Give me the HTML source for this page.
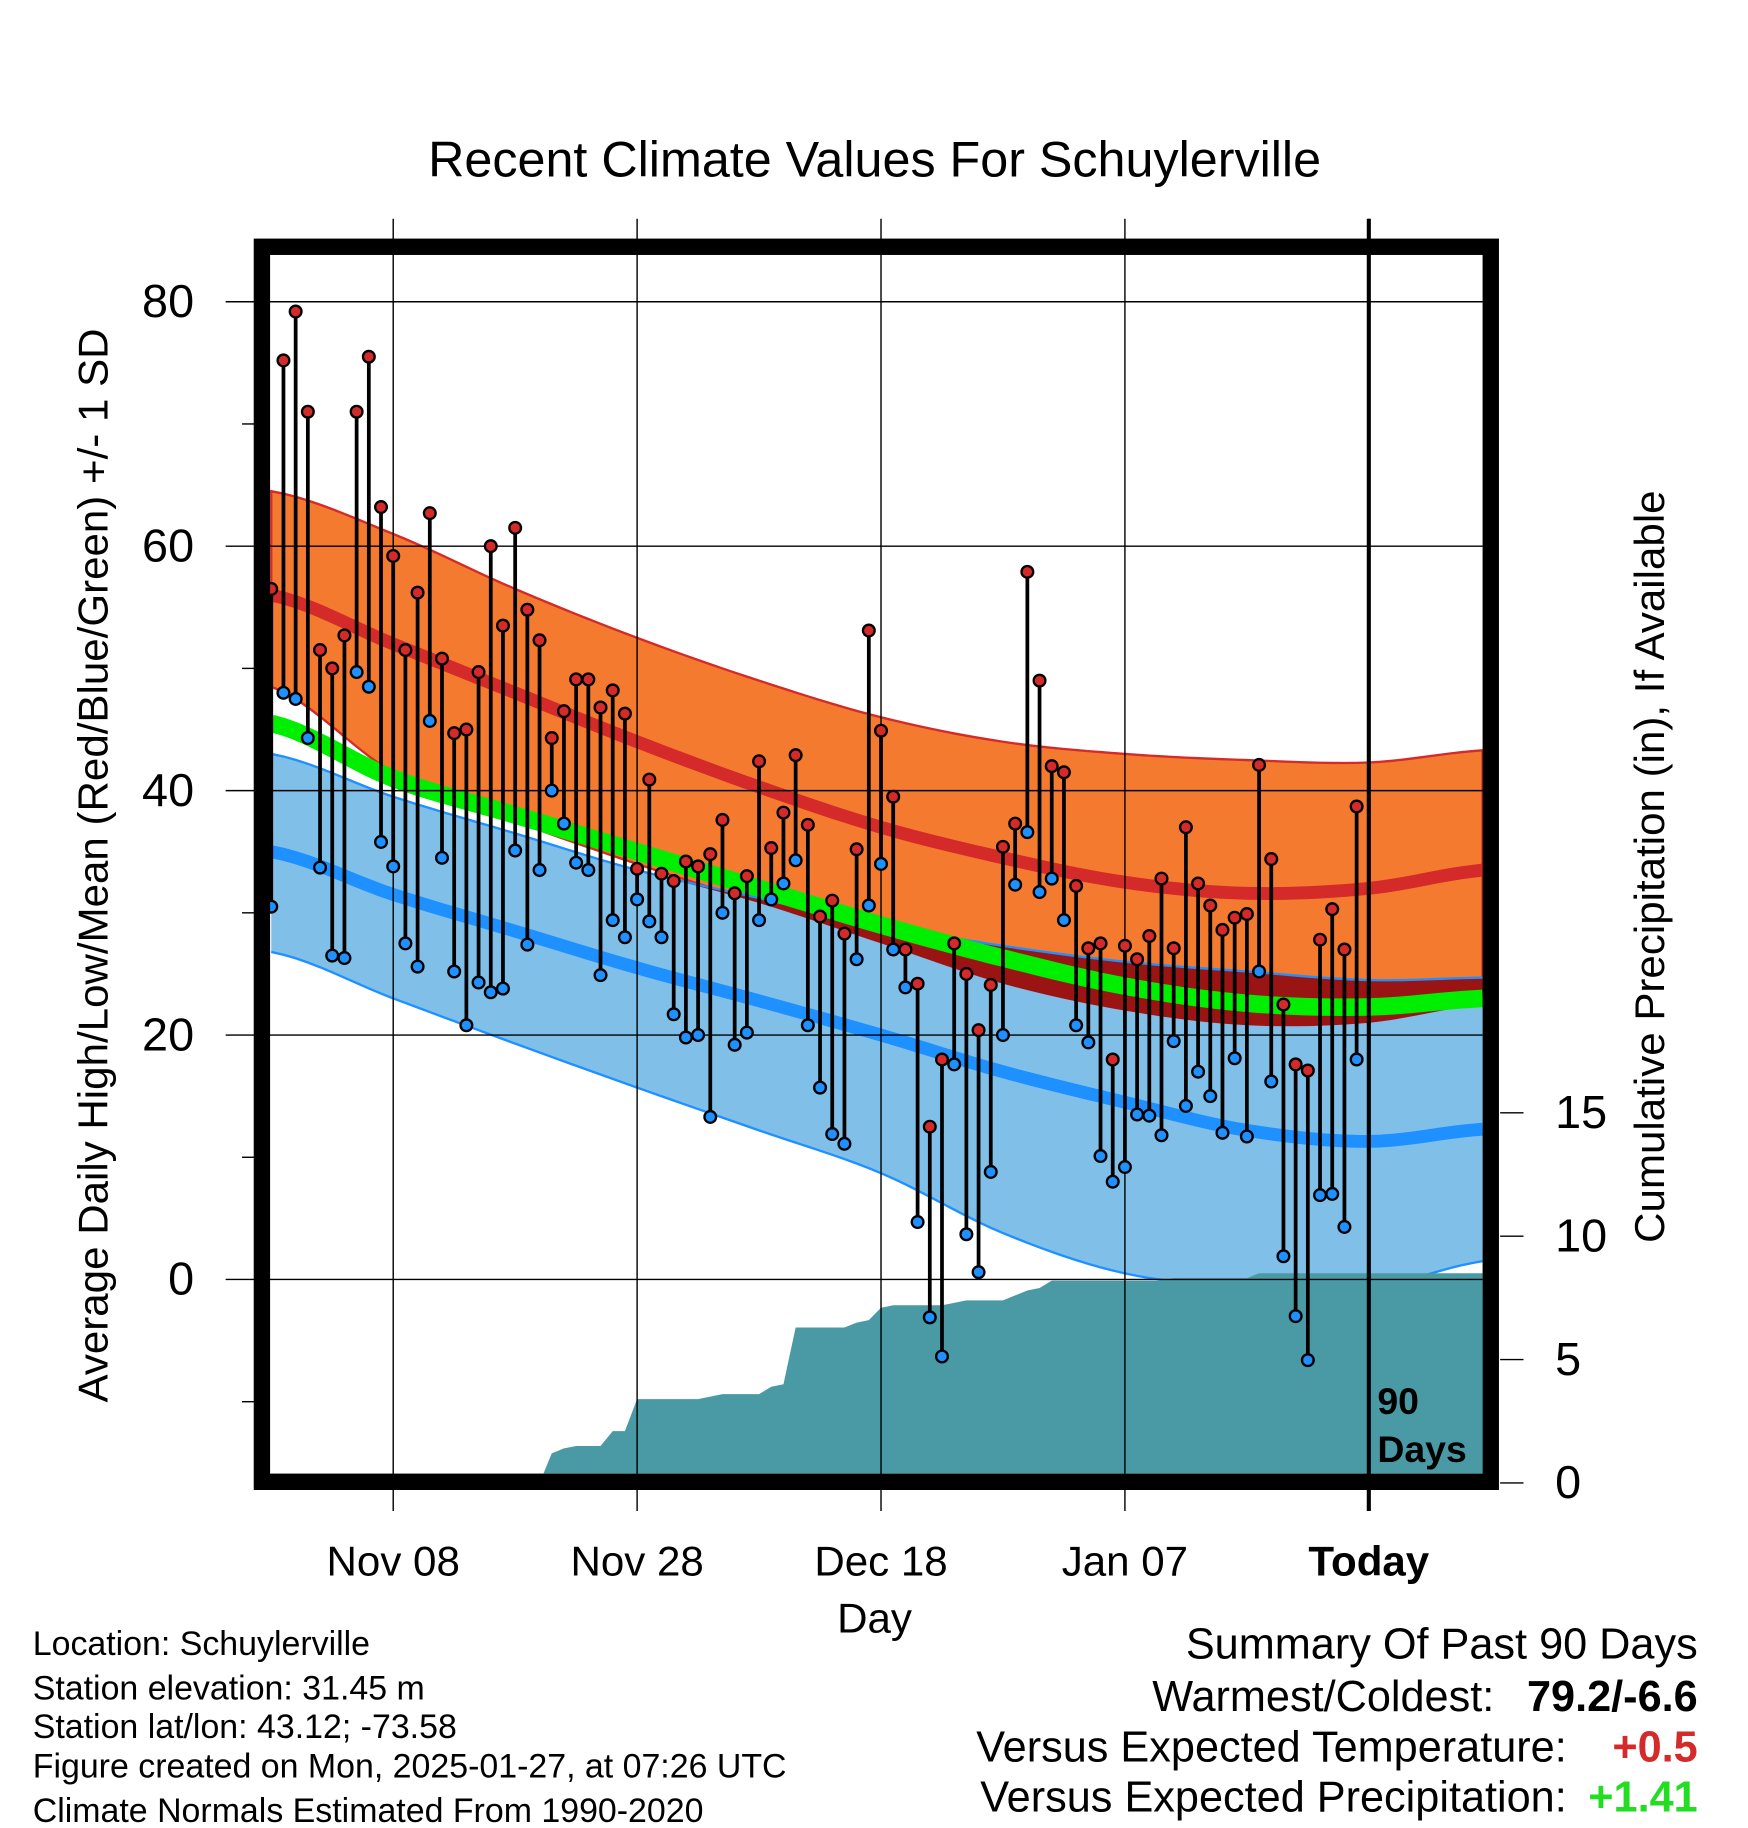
<!DOCTYPE html>
<html><head><meta charset="utf-8"><style>
html,body{margin:0;padding:0;background:#fff}
svg{display:block;font-family:"Liberation Sans",Arial,sans-serif}
</style></head><body>
<svg id="chart" width="1748" height="1828" viewBox="0 0 1495 1563" preserveAspectRatio="none" xmlns="http://www.w3.org/2000/svg">
<g id="bands"></g>
<g id="precip"></g>
<g id="grid"></g>
<g id="marks"></g>
<g id="frame"></g>
<g id="labels"></g>
<text x="748" y="151" text-anchor="middle" font-size="43">Recent Climate Values For Schuylerville</text>
<text transform="translate(92,740) rotate(-90)" text-anchor="middle" font-size="36">Average Daily High/Low/Mean (Red/Blue/Green) +/- 1 SD</text>
<text transform="translate(1423,741) rotate(-90)" text-anchor="middle" font-size="36">Cumulative Precipitation (in), If Available</text>
<text x="748" y="1396" text-anchor="middle" font-size="36">Day</text>
<g font-size="29">
<text x="28" y="1415">Location: Schuylerville</text>
<text x="28" y="1453">Station elevation: 31.45 m</text>
<text x="28" y="1486">Station lat/lon: 43.12; -73.58</text>
<text x="28" y="1520">Figure created on Mon, 2025-01-27, at 07:26 UTC</text>
<text x="28" y="1558">Climate Normals Estimated From 1990-2020</text>
</g>
<g font-size="37">
<text x="1452" y="1418" text-anchor="end">Summary Of Past 90 Days</text>
<text x="1278" y="1463" text-anchor="end">Warmest/Coldest:</text>
<text x="1452" y="1463" text-anchor="end" font-weight="bold">79.2/-6.6</text>
<text x="1340" y="1506" text-anchor="end">Versus Expected Temperature:</text>
<text x="1452" y="1506" text-anchor="end" font-weight="bold" fill="#d42a2a">+0.5</text>
<text x="1340" y="1549" text-anchor="end">Versus Expected Precipitation:</text>
<text x="1452" y="1549" text-anchor="end" font-weight="bold" fill="#22dd22">+1.41</text>
</g>
</svg>
<script>
const normDays=[0,10,20,30,40,50,60,70,80,90,99.5];
const hiUp=[64.5,61,56.5,52.5,49,46,44,43,42.5,42.3,43.3];
const hiMean=[56,52,48,44,40.3,37,34.5,32.5,31.6,32,33.5];
const hiDn=[48.5,41.5,37.5,34,30.8,27.5,24.2,22,20.8,21,22.5];
const avgMean=[45.5,41,38,35,32,29,26.3,24,22.6,22.3,23];
const loUp=[43,39.5,36.5,33.5,31.2,29,27.3,26,25.2,24.5,24.7];
const loMean=[35,31.5,28.5,25.5,22.8,20,17,14.5,12.2,11.3,12.3];
const loDn=[26.8,23,19.3,15.7,12.2,8.7,3.8,0.5,-0.6,-0.7,1.5];
const highs=[56.5,75.2,79.2,71,51.5,50,52.7,71,75.5,63.2,59.2,51.5,56.2,62.7,50.8,44.7,45,49.7,60,53.5,61.5,54.8,52.3,44.3,46.5,49.1,49.1,46.8,48.2,46.3,33.6,40.9,33.2,32.6,34.2,33.8,34.8,37.6,31.6,33,42.4,35.3,38.2,42.9,37.2,29.7,31,28.3,35.2,53.1,44.9,39.5,27,24.2,12.5,18,27.5,25,20.4,24.1,35.4,37.3,57.9,49,42,41.5,32.2,27.1,27.5,18,27.3,26.2,28.1,32.8,27.1,37,32.4,30.6,28.6,29.6,29.9,42.1,34.4,22.5,17.6,17.1,27.8,30.3,27,38.7];
const lows=[30.5,48,47.5,44.3,33.7,26.5,26.3,49.7,48.5,35.8,33.8,27.5,25.6,45.7,34.5,25.2,20.8,24.3,23.5,23.8,35.1,27.4,33.5,40,37.3,34.1,33.5,24.9,29.4,28,31.1,29.3,28,21.7,19.8,20,13.3,30,19.2,20.2,29.4,31.1,32.4,34.3,20.8,15.7,11.9,11.1,26.2,30.6,34,27,23.9,4.7,-3.1,-6.3,17.6,3.7,0.6,8.8,20,32.3,36.6,31.7,32.8,29.4,20.8,19.4,10.1,8,9.2,13.5,13.4,11.8,19.5,14.2,17,15,12,18.1,11.7,25.2,16.2,1.9,-3,-6.6,6.9,7,4.3,18];
const precipCum=[0,0,0,0,0,0,0,0,0,0,0,0,0,0,0,0,0,0,0,0,0,0,0,1.2,1.4,1.5,1.5,1.5,2.1,2.1,3.4,3.4,3.4,3.4,3.4,3.4,3.5,3.6,3.6,3.6,3.6,3.9,4.0,6.3,6.3,6.3,6.3,6.3,6.5,6.6,7.1,7.2,7.2,7.2,7.2,7.2,7.3,7.4,7.4,7.4,7.4,7.6,7.8,7.9,8.2,8.2,8.2,8.2,8.2,8.2,8.2,8.2,8.2,8.2,8.3,8.3,8.3,8.3,8.3,8.3,8.3,8.5,8.5,8.5,8.5,8.5,8.5,8.5,8.5,8.5];
const yTicks=[80,60,40,20,0];
const yMinor=[70,50,30,10,-10];
const pTicks=[15,10,5,0];
const xTickDays=[10,30,50,70,90];
const xTickLabels=["Nov 08","Nov 28","Dec 18","Jan 07","Today"];

const NS="http://www.w3.org/2000/svg";
const L=231,R=1268,T=218,B=1260;
const X=d=>232+10.43*d;
const Y=v=>1094-10.45*v;
const P=p=>1268-21.1*p;
function mk(tag,attrs,parent){const e=document.createElementNS(NS,tag);for(const k in attrs)e.setAttribute(k,attrs[k]);parent.appendChild(e);return e;}
// smooth sampling (Catmull-Rom) of a normal series
function sample(arr){
  const out=[];
  const n=normDays.length;
  for(let i=0;i<n-1;i++){
    const p0=arr[Math.max(i-1,0)],p1=arr[i],p2=arr[i+1],p3=arr[Math.min(i+2,n-1)];
    const d0=normDays[i],d1=normDays[i+1];
    for(let s=0;s<10;s++){const t=s/10;
      const v=0.5*((2*p1)+(-p0+p2)*t+(2*p0-5*p1+4*p2-p3)*t*t+(-p0+3*p1-3*p2+p3)*t*t*t);
      out.push([d0+(d1-d0)*t,v]);}
  }
  out.push([normDays[n-1],arr[n-1]]);
  return out;
}
function pts(arr){return sample(arr).map(([d,v])=>Math.min(X(d),R)+','+Y(v)).join(' ');}
function band(top,bot){const a=sample(top),b=sample(bot).reverse();
  return a.map(([d,v])=>Math.min(X(d),R)+','+Y(v)).join(' ')+' '+b.map(([d,v])=>Math.min(X(d),R)+','+Y(v)).join(' ');}
const bands=document.getElementById('bands');
let e;
e=mk('polygon',{points:band(hiUp,hiDn),fill:'#f47a2f',stroke:'#d42a2a','stroke-width':2},bands);

const ovTop=loUp.map((v,i)=>Math.min(v,hiUp[i]));
const ovBot=hiDn.map((v,i)=>Math.min(v,loUp[i]));
e=mk('polygon',{points:band(ovTop,ovBot),fill:'#9a1414'},bands);

const blTop=loUp.map((v,i)=>Math.min(v,hiDn[i]));
e=mk('polygon',{points:band(blTop,loDn),fill:'#80c0e8'},bands);

e=mk('polyline',{points:pts(loUp),fill:'none',stroke:'#1e90ff','stroke-width':2},bands);

e=mk('polyline',{points:pts(loDn),fill:'none',stroke:'#1e90ff','stroke-width':2},bands);

e=mk('polyline',{points:pts(hiMean),fill:'none',stroke:'#d42a2a','stroke-width':11},bands);

e=mk('polyline',{points:pts(avgMean),fill:'none',stroke:'#00ee00','stroke-width':15},bands);

e=mk('polyline',{points:pts(loMean),fill:'none',stroke:'#1e90ff','stroke-width':11},bands);


const pr=document.getElementById('precip');
let pp=precipCum.map((v,i)=>X(i)+','+P(v));
pp.push(R+','+P(precipCum[precipCum.length-1]));
e=mk('polygon',{points:X(0)+','+B+' '+pp.join(' ')+' '+R+','+B,fill:'#4a9aa5'},pr);


const g=document.getElementById('grid');
yTicks.forEach(v=>{e=mk('line',{x1:193,x2:R,y1:Y(v),y2:Y(v),stroke:'#000','stroke-width':1.2},g);
});
yMinor.forEach(v=>{e=mk('line',{x1:207,x2:218,y1:Y(v),y2:Y(v),stroke:'#000','stroke-width':1.2},g);
});
xTickDays.forEach(d=>{e=mk('line',{x1:X(d),x2:X(d),y1:187,y2:1292,stroke:'#000','stroke-width':1.2},g);
});
pTicks.forEach(p=>{e=mk('line',{x1:1283,x2:1303,y1:P(p),y2:P(p),stroke:'#000','stroke-width':1.2},g);
});

const m=document.getElementById('marks');
highs.forEach((h,i)=>{e=mk('line',{x1:X(i),x2:X(i),y1:Y(h),y2:Y(lows[i]),stroke:'#000','stroke-width':3.2},m);
});
highs.forEach((h,i)=>{e=mk('circle',{cx:X(i),cy:Y(h),r:5,fill:'#d42a2a',stroke:'#000','stroke-width':2},m);

e=mk('circle',{cx:X(i),cy:Y(lows[i]),r:5,fill:'#1e90ff',stroke:'#000','stroke-width':2},m);
});

const f=document.getElementById('frame');
e=mk('line',{x1:X(90),x2:X(90),y1:187,y2:1292,stroke:'#000','stroke-width':3.5},f);

e=mk('rect',{x:224,y:211,width:1051,height:1056,fill:'none',stroke:'#000','stroke-width':14},f);

e=mk('text',{x:1178,y:1209,'font-size':32,'font-weight':'bold'},f);e.textContent='90';

e=mk('text',{x:1178,y:1250,'font-size':32,'font-weight':'bold'},f);e.textContent='Days';


const lb=document.getElementById('labels');
yTicks.forEach(v=>{e=mk('text',{x:166,y:Y(v)+13,'text-anchor':'end','font-size':40},lb);e.textContent=v;
});
pTicks.forEach(p=>{e=mk('text',{x:1330,y:P(p)+13,'font-size':40},lb);e.textContent=p;
});
xTickDays.forEach((d,i)=>{e=mk('text',{x:X(d),y:1347,'text-anchor':'middle','font-size':36},lb);e.textContent=xTickLabels[i];
if(xTickLabels[i]==='Today')e.setAttribute('font-weight','bold');
});
</script>
</body></html>
